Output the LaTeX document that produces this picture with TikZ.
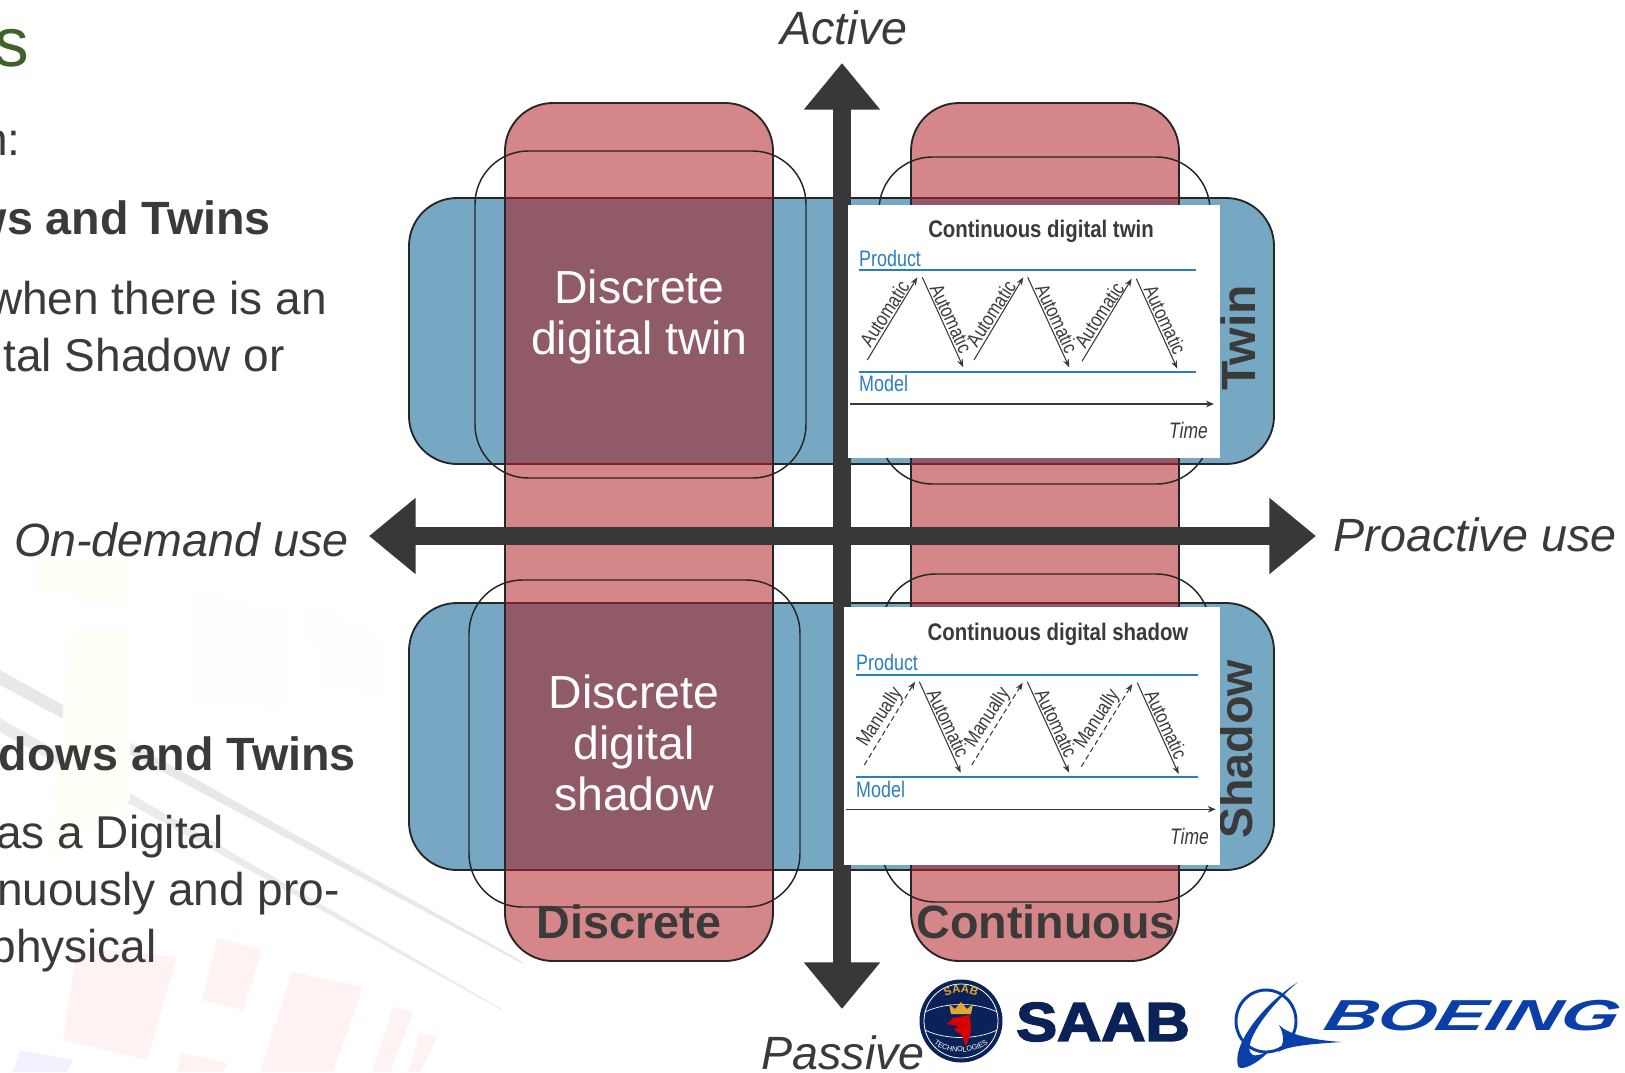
\documentclass[tikz,border=0pt]{standalone}
\usepackage{fontspec}
\setmainfont{Liberation Sans}
\newfontfamily\logofont[BoldFeatures={FakeBold=3}]{Liberation Sans}
\usetikzlibrary{arrows.meta,decorations.text}
\definecolor{inkGrey}{HTML}{3A3A3A}
\definecolor{axisGrey}{HTML}{383838}
\definecolor{titleGreen}{HTML}{3F6228}
\definecolor{twinBlue}{HTML}{76A8C4}
\definecolor{colRed}{HTML}{D58689}
\definecolor{crossRed}{HTML}{915A68}
\definecolor{crossEdge}{HTML}{7A1F2C}
\definecolor{panelBlue}{HTML}{2A7FC0}
\definecolor{saabNavy}{HTML}{0B2259}
\definecolor{saabGold}{HTML}{E0A92E}
\definecolor{boeingBlue}{HTML}{0A3EA8}
\tikzset{
	body/.style={anchor=base east,inner sep=0pt,text=inkGrey,font=\fontsize{34.5}{38}\selectfont},
	bodybold/.style={body,font=\fontsize{35}{38}\selectfont\bfseries},
	axislabel/.style={inner sep=0pt,text=inkGrey,font=\fontsize{35}{38}\selectfont\itshape},
	crosslabel/.style={inner sep=0pt,text=white,align=center,font=\fontsize{34.8}{38.25}\selectfont},
	sidelabel/.style={inner sep=0pt,text=inkGrey,font=\fontsize{35}{38}\selectfont\bfseries},
	band/.style={draw=black!85,line width=1.4pt,rounded corners=36pt},
	ring/.style={draw=black!85,line width=1.1pt,rounded corners=40pt},
	cross/.style={fill=crossRed},
	crossline/.style={draw=crossEdge,line width=1.2pt},
	axis/.style={draw=axisGrey,line width=13.5pt,{Triangle[length=35pt,width=55pt]}-{Triangle[length=35pt,width=55pt]}},
	paneltitle/.style={inner sep=0pt,xscale=.85,text=inkGrey,font=\fontsize{18}{20}\selectfont\bfseries},
	panelname/.style={anchor=base west,inner sep=0pt,xscale=.8,text=panelBlue,font=\fontsize{16.8}{18}\selectfont},
	paneltime/.style={anchor=east,inner sep=0pt,xscale=.78,text=inkGrey,font=\fontsize{16.8}{18}\selectfont\itshape},
	panelline/.style={draw=panelBlue,line width=1.3pt},
	timeline/.style={draw=inkGrey,line width=1pt,-{Stealth[length=6pt,width=5pt]}},
	auto step/.style={draw=inkGrey,line width=.8pt,-{Stealth[length=6pt,width=4.5pt]}},
	manual step/.style={auto step,dash pattern=on 4pt off 2.5pt},
	steplabel/.style={midway,anchor=south,inner sep=1pt,xscale=.82,text=inkGrey,font=\fontsize{15}{16}\selectfont},
	uplabel/.style={rotate=57,steplabel},
	downlabel/.style={rotate=-65,steplabel},
}

\begin{document}
\begin{tikzpicture}[x=0.75pt,y=0.75pt,yscale=-1]
	\useasboundingbox (0,0) rectangle (1625,1072);
	\fill[black!9] (0,670) -- (0,685) -- (525,965) -- (520,960) -- cycle;
	\fill[black!8] (0,718) -- (0,732) -- (505,1012) -- (500,1008) -- cycle;
	\fill[yellow!3] (35,560) -- (130,560) -- (130,607) -- (35,590) -- cycle;
	\fill[yellow!3] (70,632) -- (130,632) -- (130,800) -- (50,860) -- cycle;
	\fill[green!1] (190,595) -- (285,610) -- (280,710) -- (195,700) -- cycle;
	\fill[green!1] (300,600) -- (385,640) -- (385,695) -- (330,690) -- cycle;
	\fill[red!5] (77,947) -- (177,957) -- (147,1060) -- (63,1040) -- cycle;
	\fill[red!5] (217,938) -- (262,950) -- (243,1010) -- (202,1000) -- cycle;
	\fill[red!5] (292,972) -- (363,987) -- (333,1072) -- (260,1072) -- cycle;
	\fill[red!5] (393,1007) -- (413,1012) -- (390,1072) -- (372,1072) -- cycle;
	\fill[red!5] (420,1033) -- (437,1037) -- (420,1072) -- (408,1072) -- cycle;
	\fill[red!5] (182,1053) -- (227,1063) -- (223,1072) -- (177,1072) -- cycle;
	\fill[blue!5] (20,1050) -- (73,1060) -- (67,1072) -- (13,1072) -- cycle;

	\node[anchor=base east,inner sep=0pt,text=titleGreen,font=\fontsize{52}{56}\selectfont] (heading) at (29,66) {s};
	\node[body] (introEnd) at (21,155) {n:};
	\node[bodybold] (firstHead) at (271,234) {ws and Twins};
	\node[body] (firstOne) at (327,314) {when there is an};
	\node[body] (firstTwo) at (285,371) {tal Shadow or};
	\node[bodybold] (secondHead) at (356,770) {dows and Twins};
	\node[body] (secondOne) at (224,848) {as a Digital};
	\node[body] (secondTwo) at (340,905) {nuously and pro-};
	\node[body] (secondThree) at (157,962) {physical};

	\draw[band,fill=twinBlue] (409,198) rectangle (1274,464);
	\draw[band,fill=twinBlue] (409,603) rectangle (1274,870);
	\draw[band,fill=colRed] (505,103) rectangle (773,961);
	\draw[band,fill=colRed] (911,103) rectangle (1179,961);
	\fill[cross] (505,198) rectangle (773,464);
	\fill[cross] (505,603) rectangle (773,870);
	\fill[cross] (911,198) rectangle (1179,464);
	\fill[cross] (911,603) rectangle (1179,870);
	\draw[crossline] (505,198) -- (773,198) (505,464) -- (773,464) (505,603) -- (773,603) (505,870) -- (773,870);
	\draw[crossline] (911,198) -- (1179,198) (911,464) -- (1179,464) (911,603) -- (1179,603) (911,870) -- (1179,870);
	\draw[black!85,line width=1.4pt] (505,198) -- (505,464) (773,198) -- (773,464) (505,603) -- (505,870) (773,603) -- (773,870);
	\draw[black!85,line width=1.4pt] (911,198) -- (911,464) (1179,198) -- (1179,464) (911,603) -- (911,870) (1179,603) -- (1179,870);
	\draw[ring] (475,151) rectangle (806,478);
	\draw[ring] (469,580) rectangle (800,907);
	\draw[ring] (879,157) rectangle (1210,484);
	\draw[ring] (882,574) rectangle (1210,902);

	\coordinate (axisW) at (369,536);
	\coordinate (axisE) at (1316,536);
	\coordinate (axisN) at (842,63);
	\coordinate (axisS) at (842,1009);
	\draw[axis] (axisW) -- (axisE);
	\draw[axis] (axisS) -- (axisN);

	\node[crosslabel] (discreteTwin) at (639.5,317) {Discrete\\digital twin};
	\node[crosslabel] (discreteShadow) at (634,743) {Discrete\\digital\\shadow};
	\node[sidelabel] (discreteLabel) at (629,922) {Discrete};
	\node[sidelabel] (continuousLabel) at (1046,922) {Continuous};
	\node[axislabel] (activeLabel) at (844,28) {Active};
	\node[axislabel] (passiveLabel) at (843,1053) {Passive};
	\node[axislabel] (demandLabel) at (181.5,540) {On-demand use};
	\node[axislabel] (proactiveLabel) at (1475,535) {Proactive use};
	\node[sidelabel,rotate=90,font=\fontsize{36}{38}\selectfont\bfseries] (twinLabel) at (1238,338) {Twin};
	\node[sidelabel,rotate=90] (shadowLabel) at (1236,749.5) {Shadow};

	\fill[white] (848,205) rectangle (1220,458);
	\node[paneltitle] (twinTitle) at (1041,231) {Continuous digital twin};
	\node[panelname] (twinProduct) at (859,266) {Product};
	\node[panelname] (twinModel) at (859,391) {Model};
	\node[paneltime] (twinTime) at (1208,430) {Time};
	\coordinate (twinProductA) at (859,270);
	\coordinate (twinProductB) at (1196,270);
	\coordinate (twinModelA) at (859,372);
	\coordinate (twinModelB) at (1196,372);
	\coordinate (twinTimeA) at (850,404);
	\coordinate (twinTimeB) at (1214,404);
	\draw[panelline] (twinProductA) -- (twinProductB);
	\draw[panelline] (twinModelA) -- (twinModelB);
	\draw[timeline] (twinTimeA) -- (twinTimeB);
	\coordinate (tu1a) at (867.3,360);
	\coordinate (tu1b) at (917.3,277.3);
	\coordinate (td1a) at (922.3,277.3);
	\coordinate (td1b) at (963.3,367.3);
	\coordinate (tu2a) at (974,360);
	\coordinate (tu2b) at (1023.3,277.3);
	\coordinate (td2a) at (1027.7,277.3);
	\coordinate (td2b) at (1069.3,367.3);
	\coordinate (tu3a) at (1082,361.3);
	\coordinate (tu3b) at (1131.7,278.7);
	\coordinate (td3a) at (1136.3,278.7);
	\coordinate (td3b) at (1177.3,368.7);
	\draw[auto step] (tu1a) -- node[uplabel] (tu1) {Automatic} (tu1b);
	\draw[auto step] (td1a) -- node[downlabel] (td1) {Automatic} (td1b);
	\draw[auto step] (tu2a) -- node[uplabel] (tu2) {Automatic} (tu2b);
	\draw[auto step] (td2a) -- node[downlabel] (td2) {Automatic} (td2b);
	\draw[auto step] (tu3a) -- node[uplabel] (tu3) {Automatic} (tu3b);
	\draw[auto step] (td3a) -- node[downlabel] (td3) {Automatic} (td3b);

	\fill[white] (844,607) rectangle (1220,865);
	\node[paneltitle] (shadowTitle) at (1058,634) {Continuous digital shadow};
	\node[panelname] (shadowProduct) at (856,670) {Product};
	\node[panelname] (shadowModel) at (856,797) {Model};
	\node[paneltime] (shadowTime) at (1209,836) {Time};
	\coordinate (shadowProductA) at (856,674.7);
	\coordinate (shadowProductB) at (1198,674.7);
	\coordinate (shadowModelA) at (856,777.3);
	\coordinate (shadowModelB) at (1198,777.3);
	\coordinate (shadowTimeA) at (846,809.3);
	\coordinate (shadowTimeB) at (1215.7,809.3);
	\draw[panelline] (shadowProductA) -- (shadowProductB);
	\draw[panelline] (shadowModelA) -- (shadowModelB);
	\draw[timeline] (shadowTimeA) -- (shadowTimeB);
	\coordinate (su1a) at (864.3,765);
	\coordinate (su1b) at (915,681.7);
	\coordinate (sd1a) at (919.3,681.7);
	\coordinate (sd1b) at (960.7,772.7);
	\coordinate (su2a) at (971.7,765);
	\coordinate (su2b) at (1022.7,682.7);
	\coordinate (sd2a) at (1027.3,681.7);
	\coordinate (sd2b) at (1069,772.7);
	\coordinate (su3a) at (1081.3,766.7);
	\coordinate (su3b) at (1132.3,684);
	\coordinate (sd3a) at (1137.3,682.7);
	\coordinate (sd3b) at (1178.7,774);
	\draw[manual step] (su1a) -- node[uplabel] (su1) {Manually} (su1b);
	\draw[auto step] (sd1a) -- node[downlabel] (sd1) {Automatic} (sd1b);
	\draw[manual step] (su2a) -- node[uplabel] (su2) {Manually} (su2b);
	\draw[auto step] (sd2a) -- node[downlabel] (sd2) {Automatic} (sd2b);
	\draw[manual step] (su3a) -- node[uplabel] (su3) {Manually} (su3b);
	\draw[auto step] (sd3a) -- node[downlabel] (sd3) {Automatic} (sd3b);

	\fill[saabNavy] (961,1021) circle (41.5);
	\draw[white,line width=.6pt] (961,1021) circle (37);
	\draw[white,line width=.5pt] (925,1012) .. controls (945,1002) and (977,1002) .. (997,1012);
	\draw[white,line width=.5pt] (925,1030) .. controls (945,1040) and (977,1040) .. (997,1030);
	\fill[saabGold] (951,1014) -- (949,1004) -- (955,1009) -- (961,1002) -- (967,1009) -- (973,1004) -- (971,1014) -- cycle;
	\fill[red!85!black] (953,1018) -- (970,1015) -- (971,1032) -- (966,1046) -- (961,1034) -- (954,1030) -- (958,1026) -- (947,1024) -- cycle;
	\path[decorate,decoration={text along path,text align=center,text={|\fontsize{8.5}{9}\selectfont\bfseries\color{saabGold}|SAAB}}] (938,1002) .. controls (950,990) and (972,990) .. (984,1002);
	\path[decorate,decoration={text along path,text align=center,text={|\fontsize{5.5}{6}\selectfont\color{white}|TECHNOLOGIES}}] (931,1040) .. controls (942,1056) and (980,1056) .. (991,1040);
	\node[inner sep=0pt,xscale=1.12,text=saabNavy,font=\logofont\fontsize{41}{44}\selectfont\bfseries] (saabWord) at (1103,1022) {SAAB};

	\draw[boeingBlue,line width=2.2pt] (1266,1021) ellipse (30 and 31);
	\fill[boeingBlue] (1298,982) .. controls (1270,1005) and (1245,1040) .. (1250,1052) .. controls (1252,1058) and (1262,1055) .. (1270,1050) .. controls (1258,1064) and (1240,1072) .. (1238,1066) .. controls (1232,1045) and (1262,1005) .. cycle;
	\fill[boeingBlue] (1279,1025) .. controls (1288,1034) and (1310,1040) .. (1342,1042) .. controls (1310,1044) and (1288,1046) .. (1278,1052) .. controls (1285,1044) and (1284,1034) .. cycle;
	\node[inner sep=0pt,xscale=1.72,xslant=.15,text=boeingBlue,font=\logofont\fontsize{32.5}{34}\selectfont\bfseries\itshape] (boeingWord) at (1473,1016) {BOEING};
\end{tikzpicture}
\end{document}
